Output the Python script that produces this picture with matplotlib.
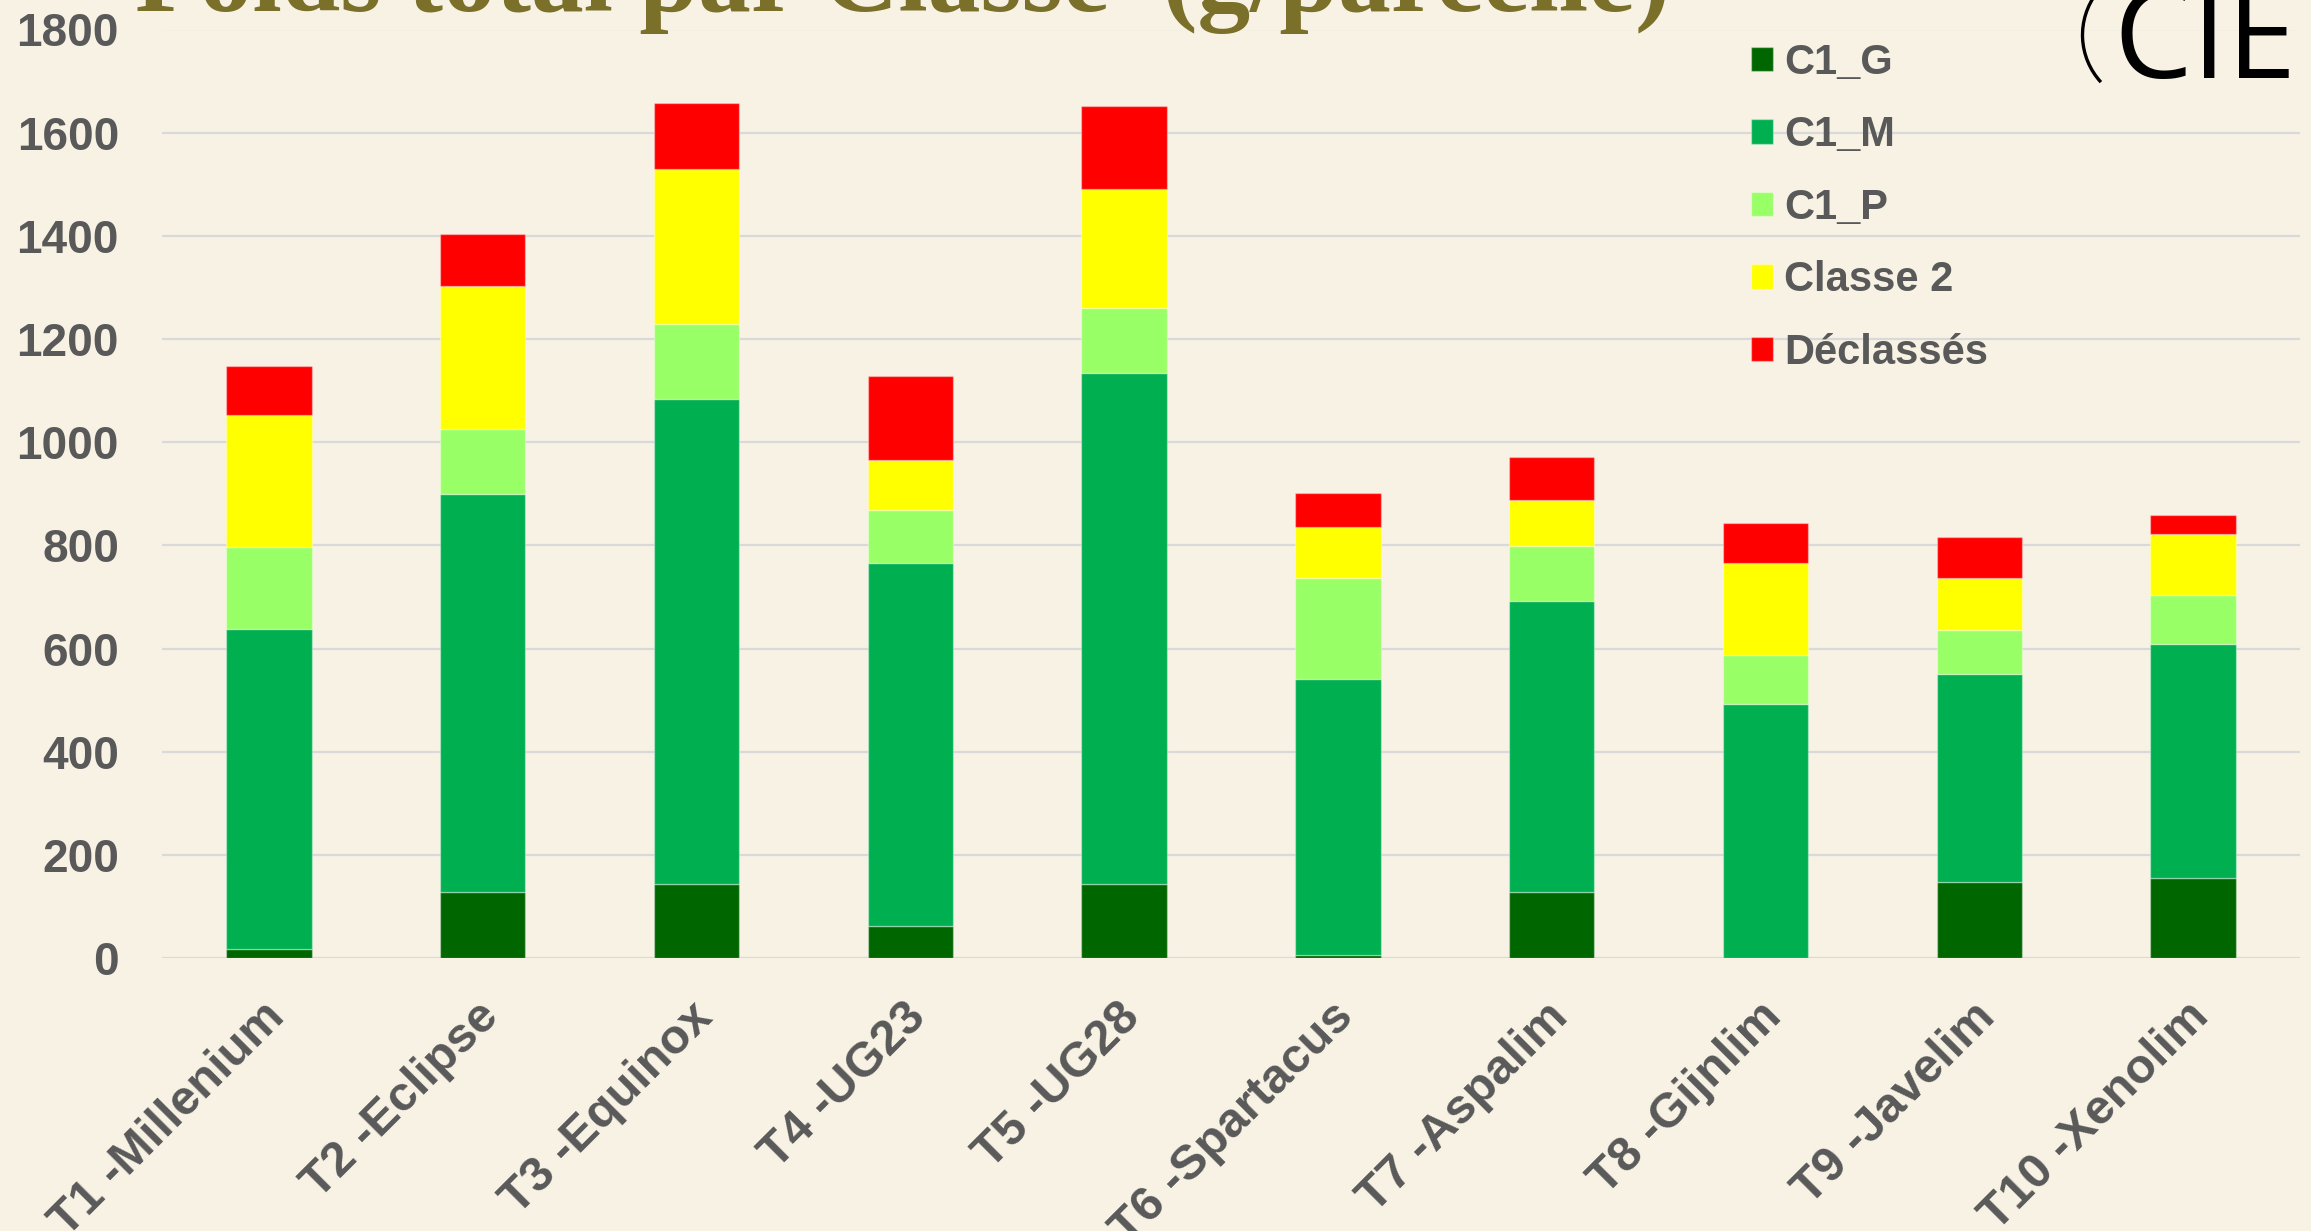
import numpy as np
import matplotlib
matplotlib.use("Agg")
import matplotlib.pyplot as plt
from matplotlib.patches import Arc
from matplotlib.transforms import ScaledTranslation

# Données (g/parcelle)
varietes = ["T1 -Millenium", "T2 -Eclipse", "T3 -Equinox", "T4 -UG23", "T5 -UG28",
            "T6 -Spartacus", "T7 -Aspalim", "T8 -Gijnlim", "T9 -Javelim", "T10 -Xenolim"]
c1_g = [17, 127, 143, 63, 144, 6, 127, 0, 147, 156]
c1_m = [621, 772, 941, 703, 990, 534, 565, 492, 403, 452]
c1_p = [158, 127, 145, 103, 126, 197, 107, 95, 85, 95]
classe2 = [256, 277, 300, 97, 231, 99, 89, 178, 101, 119]
declasses = [95, 100, 128, 163, 160, 66, 83, 79, 80, 36]

series = [("C1_G", c1_g, "#006600"),
          ("C1_M", c1_m, "#00B050"),
          ("C1_P", c1_p, "#99FF66"),
          ("Classe 2", classe2, "#FFFF00"),
          ("Déclassés", declasses, "#FF0000")]

fond = "#F8F2E5"
gris = "#595959"

W, H = 2311, 1231
fig = plt.figure(figsize=(W / 100, H / 100), dpi=100, facecolor=fond)
ax = fig.add_axes([162 / W, 1 - 958 / H, (2300 - 162) / W, (958 - 29.5) / H])
ax.set_facecolor(fond)

x = np.arange(len(varietes))
bas = np.zeros(len(varietes))
for nom, vals, couleur in series:
    ax.bar(x, vals, width=0.4, bottom=bas, color=couleur, label=nom,
           edgecolor=(1, 1, 1, 0.35), linewidth=1)
    bas += np.array(vals)

ax.set_xlim(-0.5, len(varietes) - 0.5)
ax.set_ylim(0, 1800)
ax.set_yticks(np.arange(0, 1801, 200))
ax.yaxis.grid(True, color="#D9D9D9", linewidth=1.6)
ax.set_axisbelow(True)
for s in ax.spines.values():
    s.set_visible(False)
ax.tick_params(axis="both", length=0)
ax.tick_params(axis="y", pad=31)
ax.tick_params(axis="x", pad=26)
ax.set_xticks(x)
ax.set_xticklabels(varietes, rotation=45, ha="right", va="top", rotation_mode="anchor")
for lab in ax.get_yticklabels():
    lab.set_fontfamily("Liberation Sans")
    lab.set_fontweight("bold")
    lab.set_fontsize(33)
    lab.set_color(gris)
decal = ScaledTranslation(-7 / 100, 0, fig.dpi_scale_trans)
for lab in ax.get_xticklabels():
    lab.set_fontfamily("Liberation Sans")
    lab.set_fontweight("bold")
    lab.set_fontsize(35)
    lab.set_color(gris)
    lab.set_transform(lab.get_transform() + decal)

leg = ax.legend(loc="upper left", bbox_to_anchor=(1751 / W, 1 - 42.6 / H),
                bbox_transform=fig.transFigure, frameon=False,
                prop={"family": "Liberation Sans", "weight": "bold", "size": 30},
                handlelength=0.53, handleheight=0.53, handletextpad=0.27,
                labelspacing=0.78, borderpad=0, borderaxespad=0)
for t in leg.get_texts():
    t.set_color(gris)

# Titre (coupé en haut comme sur l'original)
fig.text(903 / W, 1 - 11 / H, "Poids total par Classe  (g/parcelle)", ha="center", va="baseline",
         fontsize=76, fontweight="bold", family="Liberation Serif", color="#7A7029")

# Logo CIE
fig.text(2297 / W, 1 - 78 / H, "CIE", ha="right", va="baseline", fontsize=90,
         family="Open Sans", color="black")
fig.add_artist(Arc((2152 / W, 1 - 35 / H), 2 * 69.5 / W, 2 * 69.5 / H, theta1=125, theta2=240,
                   transform=fig.transFigure, color="black", linewidth=2.4))

fig.savefig("out.png", dpi=100, facecolor=fond)
